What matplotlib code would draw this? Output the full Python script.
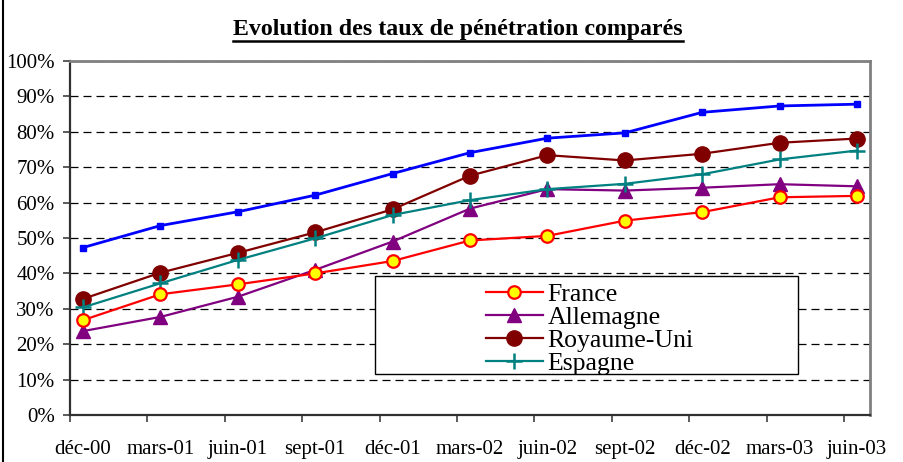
import matplotlib
matplotlib.use("Agg")
import matplotlib.pyplot as plt
from matplotlib.patches import Rectangle
from matplotlib.lines import Line2D
import numpy as np

plt.rcParams['font.family'] = ['Liberation Serif', 'DejaVu Serif']

title = "Evolution des taux de pénétration comparés"
periods = ["déc-00", "mars-01", "juin-01", "sept-01", "déc-01", "mars-02",
           "juin-02", "sept-02", "déc-02", "mars-03", "juin-03"]
total = [47.3, 53.5, 57.4, 62.1, 68.2, 74.1, 78.2, 79.7, 85.5, 87.3, 87.8]
france = [26.8, 34.1, 36.9, 40.0, 43.5, 49.3, 50.6, 54.9, 57.3, 61.5, 61.9]
allemagne = [23.7, 27.7, 33.4, 41.0, 49.0, 58.3, 63.8, 63.4, 64.2, 65.2, 64.6]
royaume_uni = [32.8, 40.2, 45.8, 51.6, 58.1, 67.6, 73.4, 71.9, 73.8, 76.9, 78.1]
espagne = [30.4, 37.2, 43.8, 49.9, 56.5, 60.7, 63.8, 65.3, 68.0, 72.2, 74.7]
y_ticks = [0, 10, 20, 30, 40, 50, 60, 70, 80, 90, 100]
y_labels = [f"{v}%" for v in y_ticks]

W, H = 904, 462
fig = plt.figure(figsize=(W / 100, H / 100), dpi=100)
ax = fig.add_axes([70 / W, 1 - 415 / H, 800 / W, 354 / H])

x = np.arange(len(periods))
off = 0.168

ax.plot(x, [v / 100 for v in total], color='#0000FF', lw=2.0, marker='s',
        ms=4, mfc='#0000FF', mec='#0000FF', zorder=5)
ax.plot(x, [v / 100 for v in france], color='#FF0000', lw=1.6, marker='o',
        ms=9, mfc='#FFFF00', mec='#FF0000', mew=1.6, label='France', zorder=6)
ax.plot(x, [v / 100 for v in allemagne], color='#800080', lw=1.6, marker='^',
        ms=10, mfc='#800080', mec='#800080', label='Allemagne', zorder=5)
ax.plot(x, [v / 100 for v in royaume_uni], color='#800000', lw=1.6, marker='o',
        ms=11, mfc='#800000', mec='#800000', label='Royaume-Uni', zorder=5)
ax.plot(x, [v / 100 for v in espagne], color='#008080', lw=1.6, marker='+',
        ms=12, mew=1.8, mec='#008080', label='Espagne', zorder=5)

ax.set_xlim(-off, len(periods) - 1 + off)
ax.set_ylim(0, 1)
ax.set_yticks([v / 100 for v in y_ticks])
ax.set_yticklabels(y_labels, fontsize=15)
ax.yaxis.grid(True, linestyle=(0, (6.4, 4)), color='black', lw=0.9)
ax.set_axisbelow(True)

ax.set_xticks(x - off)
ax.set_xticklabels([''] * len(periods))
ax.set_xticks(x, minor=True)
ax.set_xticklabels(periods, minor=True, fontsize=15)
ax.tick_params(axis='x', which='major', length=5, width=1.2, color='#404040', direction='out')
ax.tick_params(axis='x', which='minor', length=0, pad=18)
ax.tick_params(axis='y', length=5, width=1.2, color='#404040', direction='out', pad=6)

for s in ['left', 'bottom']:
    ax.spines[s].set_color('#303030')
    ax.spines[s].set_linewidth(1.6)
for s in ['top', 'right']:
    ax.spines[s].set_color('#808080')
    ax.spines[s].set_linewidth(2.0)

# legend box
lx0, lx1 = (375 - 70) / 800, (798 - 70) / 800
ly0, ly1 = (415 - 374) / 354, (415 - 275.7) / 354
ax.add_patch(Rectangle((lx0, ly0), lx1 - lx0, ly1 - ly0, transform=ax.transAxes,
                       facecolor='white', edgecolor='black', lw=1.0, zorder=3))
leg = ax.legend(loc='upper left', bbox_to_anchor=((486 - 70) / 800, (415 - 283) / 354),
                frameon=False, fontsize=18.5, labelspacing=0.0, handlelength=2.2,
                handletextpad=0.2, borderpad=0, borderaxespad=0)
leg.set_zorder(7)

# outer border
fig.add_artist(Rectangle((3 / W, -0.2), 1.2, 1.2 + (1 - 9 / H), transform=fig.transFigure,
                         fill=False, edgecolor='black', lw=1.5))

# title with underline
t = fig.text(458 / W, 1 - 30 / H, title, ha='center', va='center', fontsize=17.2,
             fontweight='bold')
fig.canvas.draw()
bb = t.get_window_extent()
uy = 1 - 40.5 / H
fig.add_artist(Line2D([bb.x0 / W, bb.x1 / W], [uy, uy], transform=fig.transFigure,
                      color='black', lw=1.8))

fig.savefig('out.png', dpi=100)
